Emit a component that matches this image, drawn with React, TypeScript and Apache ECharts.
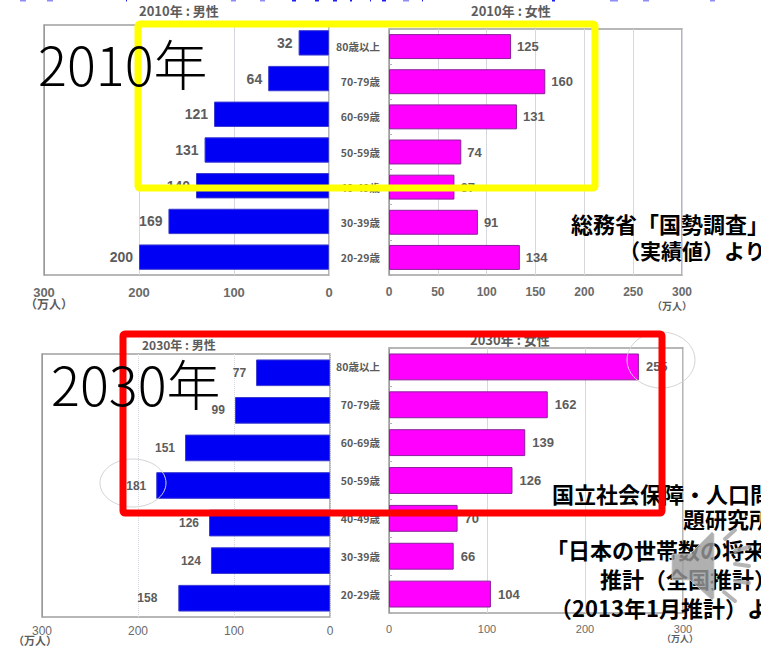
import React, { useEffect, useRef } from "react";
import * as echarts from "echarts";

const ageGroups = ["80歳以上", "70-79歳", "60-69歳", "50-59歳", "40-49歳", "30-39歳", "20-29歳"];
const male2010 = [32, 64, 121, 131, 140, 169, 200];
const female2010 = [125, 160, 131, 74, 67, 91, 134];
const male2030 = [77, 99, 151, 181, 126, 124, 158];
const female2030 = [255, 162, 139, 126, 70, 66, 104];

const BLUE = "#0000f5";
const MAGENTA = "#ff00ff";
const GREY = "#5c5c5c";
const LATIN = '"Liberation Sans", Arial, sans-serif';
const CJK = '"Noto Sans CJK JP", "Noto Sans", sans-serif';

// Speaker glyph shown in the lower right corner of the slide
const speakerCone = "M0 22 L18 22 L40 0 L42 2 L42 66 L40 68 L18 48 L0 48 Z";

type Panel = { left: number; top: number; width: number; height: number };

const panels: Panel[] = [
  { left: 44, top: 25, width: 285, height: 250 },
  { left: 389, top: 29, width: 293, height: 246 },
  { left: 42, top: 354, width: 288, height: 263 },
  { left: 389, top: 348, width: 294, height: 265 },
];

const tickFontSizes = [13, 12, 12, 11];
const tickMargins = [11, 11, 8, 10];
const valueFontSizes = [14, 13, 12, 13];
const valueDistances = [6, 6, 10, 7];

// Clipped fragments of a heading that runs off the top edge
const headingFragments = [
  [20, 6], [47, 6], [126, 1], [231, 5], [260, 5], [292, 4], [315, 4], [333, 4], [350, 2], [370, 1],
  [382, 4], [403, 6], [422, 1], [552, 3], [610, 8], [643, 6], [710, 5],
];

function textEl(text: string, x: number, y: number, fontSize: number, fontWeight: number | string, fill: string, fontFamily = CJK, align = "left") {
  return {
    type: "text",
    x,
    y,
    z: 100,
    style: { text, fontSize, fontWeight, fill, fontFamily, textAlign: align, textVerticalAlign: "middle" },
  };
}

export default function App() {
  const ref = useRef<HTMLDivElement>(null);

  useEffect(() => {
    document.body.style.margin = "0";
    document.body.style.background = "#fff";
    echarts.graphic.registerShape("speakerCone", echarts.graphic.extendPath(speakerCone, {}));
    const chart = echarts.init(ref.current!, undefined, { renderer: "svg", width: 761, height: 646 });

    const isFemale = (i: number) => i % 2 === 1;
    const isLater = (i: number) => i >= 2;

    const seriesData = [male2010, female2010, male2030, female2030];

    chart.setOption({
      animation: false,
      backgroundColor: "#fff",
      grid: panels.map((p) => ({ ...p, show: true, backgroundColor: "#fff", borderColor: "#a0a0a0", borderWidth: 1.5, containLabel: false })),
      xAxis: panels.map((_, i) => ({
        type: "value",
        gridIndex: i,
        min: 0,
        max: 300,
        interval: i === 1 ? 50 : 100,
        inverse: !isFemale(i),
        axisLine: { show: false },
        axisTick: { show: false },
        splitLine: { show: true, lineStyle: { color: "#d6d8e0", width: 1, type: isLater(i) && !isFemale(i) ? "dotted" : "solid" } },
        axisLabel: {
          margin: tickMargins[i],
          fontFamily: LATIN,
          fontSize: tickFontSizes[i],
          fontWeight: isLater(i) ? "normal" : "bold",
          color: "#6a6a6a",
        },
      })),
      yAxis: panels.map((_, i) => ({
        type: "category",
        gridIndex: i,
        inverse: true,
        data: ageGroups,
        axisLine: { show: true, onZero: false, lineStyle: { color: "#9a9a9a", width: 1 } },
        axisTick: { show: isFemale(i), inside: true, length: 3, lineStyle: { color: "#b0b0b0" } },
        axisLabel: {
          show: isFemale(i),
          align: "right",
          margin: 9,
          fontFamily: CJK,
          fontSize: 10.5,
          fontWeight: "bold",
          color: "#5a5a5a",
        },
      })),
      series: seriesData.map((data, i) => ({
        type: "bar",
        xAxisIndex: i,
        yAxisIndex: i,
        // The youngest male label of 2030 sits further from its bar than the others
        data: data.map((value, k) => (i === 2 && k === 6 ? { value, label: { distance: 21 } } : value)),
        barCategoryGap: "29%",
        itemStyle: {
          color: isFemale(i) ? MAGENTA : BLUE,
          borderColor: isFemale(i) ? "#8a1f9a" : "#3a3ad0",
          borderWidth: 1,
        },
        label: {
          show: true,
          position: isFemale(i) ? "right" : "left",
          distance: valueDistances[i],
          fontFamily: LATIN,
          fontSize: valueFontSizes[i],
          fontWeight: "bold",
          color: GREY,
        },
      })),
      graphic: [
        ...headingFragments.map(([x, width]) => ({
          type: "rect",
          z: 100,
          shape: { x, y: 0, width, height: 1.5 },
          style: { fill: width > 4 ? "#8d8df5" : "#2020f0" },
        })),
        textEl("2010年 : 男性", 139, 10, 13, "bold", GREY),
        textEl("2010年 : 女性", 471, 10, 13, "bold", GREY),
        textEl("2030年 : 男性", 142, 344, 12, "bold", GREY),
        textEl("2030年 : 女性", 470, 339, 13, "bold", GREY),
        textEl("（万人）", 49, 303, 12, "bold", GREY, CJK, "center"),
        textEl("（万人）", 672, 305, 10, "bold", GREY, CJK, "center"),
        textEl("（万人）", 35, 640, 11, "bold", GREY, CJK, "center"),
        textEl("（万人）", 680, 638, 9, "bold", GREY, CJK, "center"),
        {
          type: "ellipse",
          z: 101,
          shape: { cx: 133, cy: 483, rx: 33, ry: 24 },
          style: { fill: "transparent", stroke: "#d4d4d4", lineWidth: 1 },
        },
        {
          type: "ellipse",
          z: 101,
          shape: { cx: 661, cy: 360, rx: 34, ry: 28 },
          style: { fill: "transparent", stroke: "#d4d4d4", lineWidth: 1 },
        },
        textEl("総務省「国勢調査」", 571, 223, 22, "bold", "#000"),
        textEl("（実績値）より", 619, 250, 21, "bold", "#000"),
        textEl("国立社会保障・人口問", 552, 493, 22, "bold", "#000"),
        textEl("題研究所", 683, 518, 22, "bold", "#000"),
        textEl("「日本の世帯数の将来", 546, 549, 22, "bold", "#000"),
        textEl("推計（全国推計）", 600, 578, 22, "bold", "#000"),
        textEl("（2013年1月推計）より", 550, 607, 22, "bold", "#000"),
        {
          type: "speakerCone",
          z: 110,
          x: 672,
          y: 532,
          style: { fill: "#9c9c9c", opacity: 0.8, stroke: "#cfcfcf", lineWidth: 1 },
        },
        ...[
          [725, 539, 735, 530],
          [735, 551, 749, 547],
          [735, 564, 749, 566],
          [735, 581, 749, 583],
          [724, 592, 735, 601],
        ].map(([x1, y1, x2, y2]) => ({
          type: "line",
          z: 110,
          shape: { x1, y1, x2, y2 },
          style: { stroke: "#a8a8a8", lineWidth: 4, lineCap: "round", opacity: 0.85 },
        })),
        {
          type: "rect",
          z: 120,
          shape: { x: 138, y: 24, width: 457, height: 164, r: 2 },
          style: { fill: "transparent", stroke: "#ffff00", lineWidth: 7 },
        },
        {
          type: "rect",
          z: 120,
          shape: { x: 123, y: 334, width: 539, height: 179, r: 2 },
          style: { fill: "transparent", stroke: "#ff0000", lineWidth: 7 },
        },
        {
          type: "text",
          z: 130,
          x: 38,
          y: 62,
          style: { text: "2010年", fontSize: 54, fontWeight: 300, fill: "#000", fontFamily: CJK, textVerticalAlign: "middle" },
        },
        {
          type: "text",
          z: 130,
          x: 51,
          y: 382,
          style: { text: "2030年", fontSize: 54, fontWeight: 300, fill: "#000", fontFamily: CJK, textVerticalAlign: "middle" },
        },
      ],
    });

    return () => chart.dispose();
  }, []);

  return <div ref={ref} style={{ width: 761, height: 646, overflow: "hidden" }} />;
}
